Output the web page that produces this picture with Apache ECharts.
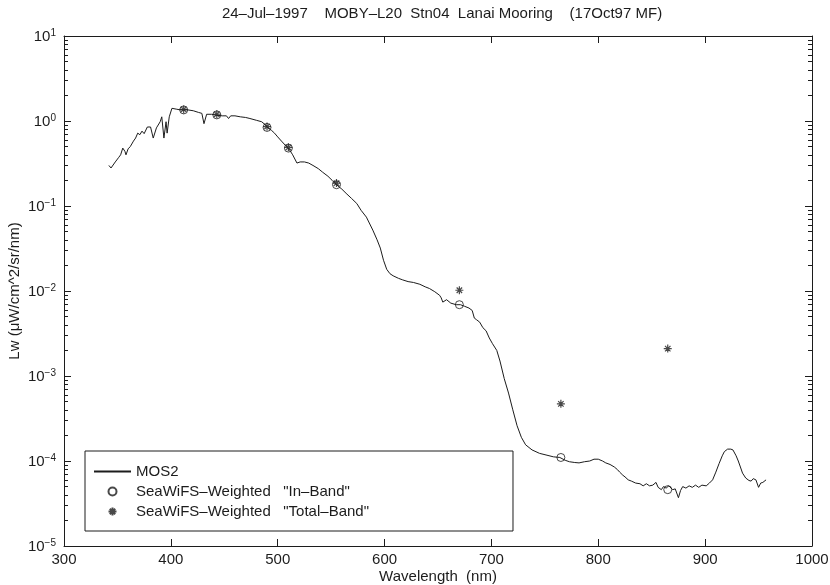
<!DOCTYPE html>
<html>
<head>
<meta charset="utf-8">
<script src="https://cdn.jsdelivr.net/npm/echarts@6/dist/echarts.min.js"></script>
<style>
  html, body { margin: 0; padding: 0; background: #fff; }
  #chart { width: 830px; height: 585px; }
</style>
</head>
<body>
<div id="chart"></div>
<script>
// MOS2 spectrum
var wavelength = [342, 344, 348, 351, 353, 355, 357, 358, 360, 362, 365, 367, 369, 371, 373, 375, 378, 381, 383.5, 386.5,
  390, 391.5, 393.5, 395.5, 396.5, 398.5, 401, 405, 409, 412, 416, 421, 426, 429, 431, 433.5, 438, 443, 448, 452,
  454, 456, 460, 465, 470, 474, 480, 485, 488, 491, 494, 497, 500, 503.5, 507, 510, 514, 518, 521, 525,
  529, 533, 538, 542, 547, 551, 555, 560, 564, 569, 574, 578, 583, 589, 593, 596, 599, 602, 605, 608,
  613, 617, 622, 627, 633, 638, 642, 647, 651.5, 653, 654.5, 656, 658, 662, 667, 671, 675, 679, 682, 684,
  686, 689, 692, 695, 698, 701, 705, 708, 712, 716, 720, 724, 728, 732, 738, 745, 752, 758, 764, 769,
  773, 778, 782, 787, 792, 796, 800, 804, 807, 811, 815, 818, 820, 823, 825, 828, 831, 835, 839, 842,
  845, 848, 851, 854, 856, 859, 861, 863.5, 866, 869.7, 872, 875, 877, 879, 882, 885, 888, 891, 894, 897,
  901, 904, 907, 910, 913, 916, 918, 921, 924, 926, 929, 931, 933, 935, 938, 941, 943, 945, 947.5, 950,
  952, 954, 957];
var lw = [0.30, 0.28, 0.33, 0.37, 0.40, 0.48, 0.44, 0.40, 0.47, 0.50, 0.58, 0.63, 0.72, 0.69, 0.76, 0.71, 0.85, 0.85, 0.63, 0.83,
  0.98, 1.12, 0.63, 0.98, 0.72, 1.12, 1.41, 1.38, 1.35, 1.35, 1.35, 1.32, 1.26, 1.23, 0.93, 1.20, 1.20, 1.17, 1.15, 1.15,
  1.07, 1.15, 1.15, 1.12, 1.10, 1.07, 1.02, 0.98, 0.91, 0.83, 0.78, 0.72, 0.65, 0.58, 0.52, 0.48, 0.40, 0.32, 0.33, 0.33,
  0.32, 0.30, 0.275, 0.25, 0.224, 0.20, 0.178, 0.158, 0.141, 0.123, 0.107, 0.089, 0.074, 0.052, 0.040, 0.032, 0.023, 0.018, 0.016, 0.0151,
  0.0141, 0.0135, 0.0129, 0.0126, 0.0120, 0.0112, 0.0107, 0.0098, 0.0089, 0.0083, 0.0074, 0.0078, 0.0079, 0.0072, 0.0069, 0.0069, 0.0066, 0.0063, 0.0059, 0.0048,
  0.0046, 0.0043, 0.0037, 0.0034, 0.0028, 0.0024, 0.0020, 0.0015, 0.00093, 0.00063, 0.00040, 0.00026, 0.00019, 0.000155, 0.000135, 0.000123, 0.000117, 0.000112, 0.000110, 0.000102,
  0.000098, 0.000096, 0.000095, 0.000098, 0.000100, 0.000105, 0.000105, 0.000100, 0.000095, 0.000091, 0.000085, 0.000079, 0.000074, 0.000068, 0.000065, 0.000060, 0.000058, 0.000055, 0.000054, 0.000051,
  0.000054, 0.000051, 0.000052, 0.000056, 0.000049, 0.000046, 0.000050, 0.000048, 0.000051, 0.000046, 0.000047, 0.000037, 0.000045, 0.000050, 0.000048, 0.000051, 0.000049, 0.000052, 0.000049, 0.000052,
  0.000051, 0.000055, 0.000060, 0.000074, 0.000093, 0.000115, 0.000129, 0.000138, 0.000138, 0.000135, 0.000115, 0.000100, 0.000085, 0.000072, 0.000063, 0.000059, 0.000058, 0.000062, 0.000060, 0.000049,
  0.000055, 0.000056, 0.000060];

// SeaWiFS bands
var bands = [412, 443, 490, 510, 555, 670, 765, 865];
var inBand = [1.35, 1.18, 0.84, 0.48, 0.178, 0.0069, 0.00011, 0.000046];
var totalBand = [1.37, 1.20, 0.86, 0.49, 0.186, 0.0102, 0.00047, 0.0021];

var xTicks = [300, 400, 500, 600, 700, 800, 900, 1000];
var yMajor = [1e-5, 1e-4, 1e-3, 1e-2, 1e-1, 1, 10];
var yMinor = [];
yMajor.slice(0, -1).forEach(function (d) {
  for (var k = 2; k <= 9; k++) yMinor.push(d * k);
});

var names = ['MOS2', 'SeaWiFS\u2013Weighted   "In\u2013Band"', 'SeaWiFS\u2013Weighted   "Total\u2013Band"'];

var font = '"Liberation Sans", Arial, Helvetica, sans-serif';
var ink = '#1c1c1c';
var star = 'path://M5,0L5,10M0,5L10,5M1.6,1.6L8.4,8.4M1.6,8.4L8.4,1.6';

function zip(xs, ys) {
  return xs.map(function (x, i) { return [x, ys[i]]; });
}

function xAxis(pos, labels) {
  return {
    type: 'value', position: pos, min: 300, max: 1000, interval: 100,
    axisLine: { show: true, onZero: false, lineStyle: { color: ink, width: 1 } },
    axisTick: { show: true, inside: true, length: 7, lineStyle: { color: ink } },
    axisLabel: {
      show: labels, color: ink, fontSize: 15, fontFamily: font, margin: 6,
      customValues: xTicks,
      formatter: function (v) { return String(v); }
    },
    splitLine: { show: false },
    name: labels ? 'Wavelength  (nm)' : '', nameLocation: 'middle', nameGap: 23,
    nameMoveOverlap: false,
    nameTextStyle: { color: ink, fontSize: 15, fontFamily: font }
  };
}

function yAxis(pos, major, labels) {
  return {
    type: 'log', logBase: 10, position: pos, min: 1e-5, max: 10,
    axisLine: { show: major, onZero: false, lineStyle: { color: ink, width: 1 } },
    axisTick: { show: true, inside: true, length: major ? 7 : 4, customValues: major ? yMajor : yMinor, lineStyle: { color: ink } },
    axisLabel: {
      show: labels, customValues: yMajor, margin: 8,
      formatter: function (v) {
        var e = Math.round(Math.log10(v));
        return '{b|10}{e|' + (e < 0 ? '\u2212' + (-e) : e) + '}';
      },
      rich: {
        b: { fontSize: 15, fontFamily: font, color: ink, lineHeight: 16, verticalAlign: 'bottom' },
        e: { fontSize: 10, fontFamily: font, color: ink, lineHeight: 10, verticalAlign: 'top' }
      }
    },
    splitLine: { show: false },
    name: labels ? 'Lw (\u03bcW/cm^2/sr/nm)' : '', nameLocation: 'middle', nameGap: 42,
    nameMoveOverlap: false,
    nameTextStyle: { color: ink, fontSize: 15, fontFamily: font }
  };
}

var chart = echarts.init(document.getElementById('chart'), null, { renderer: 'canvas' });
chart.setOption({
  backgroundColor: '#fff',
  animation: false,
  grid: { left: 64, right: 18, top: 36, bottom: 39, containLabel: false, outerBoundsMode: 'none' },
  graphic: [{
    type: 'text', x: 442, y: 6,
    style: {
      text: '24\u2013Jul\u20131997    MOBY\u2013L20  Stn04  Lanai Mooring    (17Oct97 MF)',
      font: '15px ' + font, fill: ink, textAlign: 'center'
    }
  }],
  xAxis: [xAxis('bottom', true), xAxis('top', false)],
  yAxis: [yAxis('left', true, true), yAxis('left', false, false), yAxis('right', true, false), yAxis('right', false, false)],
  legend: {
    left: 85, top: 451, orient: 'vertical',
    data: [
      { name: names[0], itemStyle: { opacity: 0 } },
      { name: names[1] },
      { name: names[2] }
    ],
    backgroundColor: '#fff', borderColor: ink, borderWidth: 1, borderRadius: 0,
    padding: [13, 144, 12, 8],
    itemWidth: 37, itemHeight: 8, itemGap: 5,
    textStyle: { color: ink, fontSize: 15, fontFamily: font, lineHeight: 15 },
    selectedMode: false
  },
  series: [
    {
      name: names[0], type: 'line', data: zip(wavelength, lw),
      symbol: 'none', lineStyle: { color: ink, width: 1 }, itemStyle: { color: ink }, z: 2
    },
    {
      name: names[1], type: 'scatter', data: zip(bands, inBand),
      symbol: 'circle', symbolSize: 8,
      itemStyle: { color: 'transparent', borderColor: ink, borderWidth: 1 }, z: 3
    },
    {
      name: names[2], type: 'scatter', data: zip(bands, totalBand),
      symbol: star, symbolSize: 8,
      itemStyle: { color: 'transparent', borderColor: ink, borderWidth: 1.2 }, z: 4
    }
  ]
});
</script>
</body>
</html>
